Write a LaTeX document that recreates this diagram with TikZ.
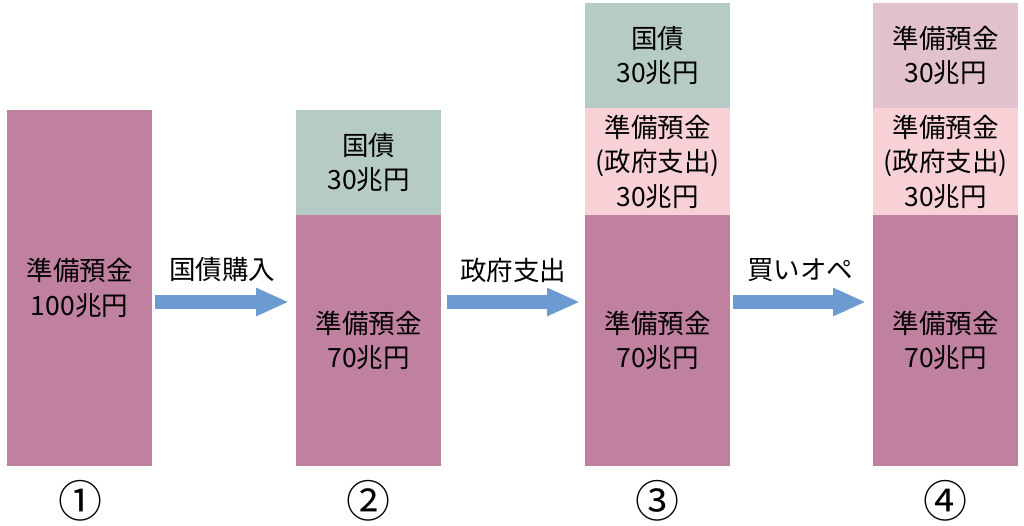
\documentclass[tikz,border=0pt]{standalone}
\usepackage{fontspec}
\setmainfont{Noto Sans CJK JP}
\usetikzlibrary{arrows.meta}
\definecolor{mauve}{HTML}{C0809F}
\definecolor{sage}{HTML}{B6CAC6}
\definecolor{pinkc}{HTML}{F8D1D7}
\definecolor{lmauve}{HTML}{E0C1CD}
\definecolor{arrowblue}{HTML}{6B9BD1}
\tikzset{
  seg/.style={anchor=north west, minimum width=145pt, inner sep=0pt, outer sep=0pt,
    align=center, font=\fontsize{26.5}{34.5}\selectfont, text=black},
  flow/.style={line width=14pt, draw=arrowblue, -{Triangle[width=26pt,length=33pt]}},
  flowlabel/.style={font=\fontsize{26.5}{34}\selectfont, text=black},
  numlabel/.style={font=\fontsize{44}{48}\selectfont, text=black},
}
\begin{document}
\begin{tikzpicture}[x=1pt,y=-1pt]
\useasboundingbox (0,0) rectangle (1024,526);
\fill[white] (0,0) rectangle (1024,526);
% bar 1
\node[seg, fill=mauve, minimum height=356pt] (b1) at (7,110) {準備預金\\100兆円};
% bar 2
\node[seg, fill=sage, minimum height=105pt] (b2t) at (296,110) {国債\\30兆円};
\node[seg, fill=mauve, minimum height=251pt] (b2b) at (296,215) {準備預金\\70兆円};
% bar 3
\node[seg, fill=sage, minimum height=105pt] (b3t) at (585,3) {国債\\30兆円};
\node[seg, fill=pinkc, minimum height=107pt] (b3m) at (585,108) {準備預金\\(政府支出)\\30兆円};
\node[seg, fill=mauve, minimum height=251pt] (b3b) at (585,215) {準備預金\\70兆円};
% bar 4
\node[seg, fill=lmauve, minimum height=105pt] (b4t) at (873,3) {準備預金\\30兆円};
\node[seg, fill=pinkc, minimum height=107pt] (b4m) at (873,108) {準備預金\\(政府支出)\\30兆円};
\node[seg, fill=mauve, minimum height=251pt] (b4b) at (873,215) {準備預金\\70兆円};
% arrows
\coordinate (a1s) at (155,302); \coordinate (a1e) at (289,302);
\coordinate (a2s) at (447,302); \coordinate (a2e) at (580,302);
\coordinate (a3s) at (733,302); \coordinate (a3e) at (866,302);
\draw[flow] (a1s) -- (a1e);
\draw[flow] (a2s) -- (a2e);
\draw[flow] (a3s) -- (a3e);
\node[flowlabel] (l1) at (222,270) {国債購入};
\node[flowlabel] (l2) at (513,270) {政府支出};
\node[flowlabel] (l3) at (800,270) {買いオペ};
% numbers
\node[numlabel] (n1) at (80,501) {①};
\node[numlabel] (n2) at (368,501) {②};
\node[numlabel] (n3) at (657,501) {③};
\node[numlabel] (n4) at (945,501) {④};
\end{tikzpicture}
\end{document}
